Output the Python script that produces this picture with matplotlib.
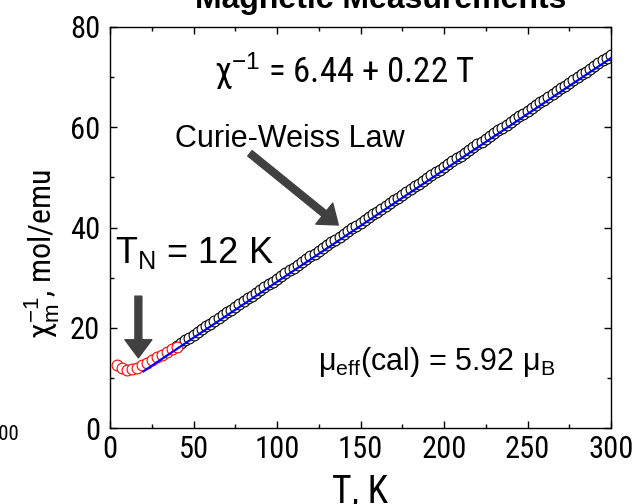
import matplotlib
matplotlib.use("Agg")
import matplotlib.pyplot as plt
from matplotlib.ticker import MultipleLocator

NARROW = ["Roboto Condensed", "Archivo Narrow", "Liberation Sans", "DejaVu Sans"]
REGULAR = ["Liberation Sans", "DejaVu Sans"]

plt.rcParams["font.family"] = REGULAR
plt.rcParams["mathtext.fontset"] = "custom"
plt.rcParams["mathtext.rm"] = "Liberation Sans"
plt.rcParams["mathtext.it"] = "Liberation Sans"

# low temperature points (red)
T_low = [4, 7, 10, 13, 16, 19, 22, 25, 28, 31, 34, 37, 40]
chi_low = [12.6, 11.9, 11.6, 11.7, 12.0, 12.5, 13.0, 13.6, 14.1, 14.6, 15.2, 15.7, 16.2]

# Curie-Weiss region (black)
T_hi = [40, 42.5, 45, 47.5, 50, 52.5, 55, 57.5, 60, 62.5, 65, 67.5, 70, 72.5, 75,
        77.5, 80, 82.5, 85, 87.5, 90, 92.5, 95, 97.5, 100, 102.5, 105, 107.5, 110,
        112.5, 115, 117.5, 120, 122.5, 125, 127.5, 130, 132.5, 135, 137.5, 140,
        142.5, 145, 147.5, 150, 152.5, 155, 157.5, 160, 162.5, 165, 167.5, 170,
        172.5, 175, 177.5, 180, 182.5, 185, 187.5, 190, 192.5, 195, 197.5, 200,
        202.5, 205, 207.5, 210, 212.5, 215, 217.5, 220, 222.5, 225, 227.5, 230,
        232.5, 235, 237.5, 240, 242.5, 245, 247.5, 250, 252.5, 255, 257.5, 260,
        262.5, 265, 267.5, 270, 272.5, 275, 277.5, 280, 282.5, 285, 287.5, 290,
        292.5, 295, 297.5, 300]
chi_hi = [16.34, 16.90, 17.46, 18.02, 18.58, 19.13, 19.69, 20.25, 20.81, 21.37,
          21.93, 22.49, 23.05, 23.60, 24.16, 24.72, 25.28, 25.84, 26.40, 26.96,
          27.52, 28.07, 28.63, 29.19, 29.75, 30.31, 30.87, 31.43, 31.99, 32.54,
          33.10, 33.66, 34.22, 34.78, 35.34, 35.90, 36.46, 37.01, 37.57, 38.13,
          38.69, 39.25, 39.81, 40.37, 40.93, 41.48, 42.04, 42.60, 43.16, 43.72,
          44.28, 44.84, 45.40, 45.95, 46.51, 47.07, 47.63, 48.19, 48.75, 49.31,
          49.87, 50.42, 50.98, 51.54, 52.10, 52.66, 53.22, 53.78, 54.34, 54.89,
          55.45, 56.01, 56.57, 57.13, 57.69, 58.25, 58.81, 59.36, 59.92, 60.48,
          61.04, 61.60, 62.16, 62.72, 63.28, 63.83, 64.39, 64.95, 65.51, 66.07,
          66.63, 67.19, 67.75, 68.30, 68.86, 69.42, 69.98, 70.54, 71.10, 71.66,
          72.22, 72.77, 73.33, 73.89, 74.45]

# linear fit line (blue)
T_fit = [20, 300]
chi_fit = [11.3, 73.8]

fig = plt.figure(figsize=(6.35, 5.04), dpi=100)
ax = fig.add_axes([110 / 635, 1 - 428 / 504, 501 / 635, 401 / 504])

ax.plot(T_hi, chi_hi, "o", ms=7.8, mfc="white", mec="black", mew=0.8, zorder=2)
ax.plot(T_low, chi_low, "o", ms=7.8, mfc="white", mec="red", mew=0.8, zorder=3)
ax.plot(T_fit, chi_fit, "-", color="#0000ff", lw=1.6, zorder=4)

ax.set_xlim(0, 300)
ax.set_ylim(0, 80)
ax.xaxis.set_major_locator(MultipleLocator(50))
ax.xaxis.set_minor_locator(MultipleLocator(25))
ax.yaxis.set_major_locator(MultipleLocator(20))
ax.yaxis.set_minor_locator(MultipleLocator(10))
ax.tick_params(which="both", direction="in", top=True, right=True, width=1)
ax.tick_params(which="major", length=5)
ax.tick_params(which="minor", length=3)
ax.tick_params(axis="x", pad=5)
ax.tick_params(axis="y", pad=7)
for lab in ax.get_xticklabels() + ax.get_yticklabels():
    lab.set_family(NARROW)
    lab.set_fontsize(22)
for sp in ax.spines.values():
    sp.set_linewidth(1)

ax.set_xlabel("T, K", family=NARROW, fontsize=27)
ax.xaxis.label.set_va("baseline")
ax.xaxis.set_label_coords(0.5, -0.1845)
ax.set_ylabel("χ$_\\mathrm{m}^{-1}$, mol/emu", family=NARROW, fontsize=23)
ax.yaxis.set_label_coords(-0.096, 0.434)

# annotations
ax.text(62, 68.8, "χ$^{-1}$ = 6.44 + 0.22 T", family=NARROW, fontsize=25,
        ha="left", va="baseline")
ax.text(39, 56.1, "Curie-Weiss Law", fontsize=22, ha="left", va="baseline")
ax.text(3, 33.0, "T$_\\mathrm{N}$ = 12 K", fontsize=26, ha="left", va="baseline")
ax.text(124.5, 11.6, "μ$_\\mathrm{eff}$(cal) = 5.92 μ$_\\mathrm{B}$", fontsize=22,
        ha="left", va="baseline")

arrow = dict(arrowstyle="simple,head_length=0.65,head_width=0.97,tail_width=0.25",
             color="#404040", shrinkA=0, shrinkB=0, mutation_scale=20)
ax.annotate("", xy=(17, 14.0), xytext=(17, 26.3), arrowprops=arrow)
ax.annotate("", xy=(136.7, 40.5), xytext=(83.8, 54.8), arrowprops=arrow)

fig.text(381 / 635, 1 - 8 / 504, "Magnetic Measurements", fontsize=23,
         fontweight="bold", ha="center", va="baseline")
# cut-off tick label from a neighbouring panel
fig.text(19 / 635, 1 - 440 / 504, "300", family=NARROW, fontsize=15,
         ha="right", va="baseline")

fig.savefig("out.png", dpi=100)
